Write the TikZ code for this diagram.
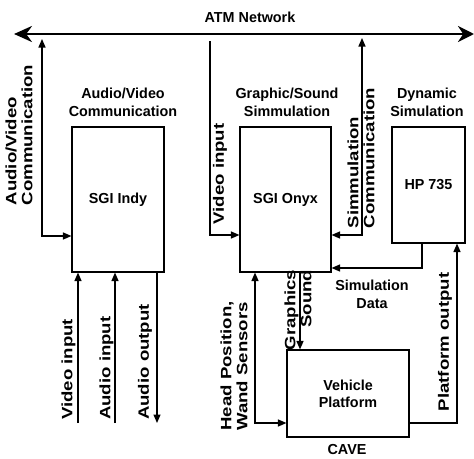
\documentclass[tikz,border=0pt]{standalone}
\usepackage{fontspec}
\setmainfont{Liberation Sans}
\newfontfamily\hfont[FakeStretch=0.99]{Liberation Sans Bold}
\newfontfamily\vfont[FakeStretch=1.24]{Liberation Sans Bold}
\usetikzlibrary{arrows.meta}
\tikzset{
  box/.style={draw, line width=1.1pt, inner sep=0pt, align=center,
    font=\hfont\fontsize{14.5}{17}\selectfont},
  lbl/.style={inner sep=0pt, align=center, font=\hfont\fontsize{14.5}{18}\selectfont},
  vlbl/.style={inner sep=0pt, rotate=90, font=\vfont\fontsize{15}{16}\selectfont},
  conn/.style={line width=1.4pt, -{Triangle[length=8.5pt,width=7pt]}},
  dconn/.style={line width=1.4pt, {Triangle[length=8.5pt,width=7pt]}-{Triangle[length=8.5pt,width=7pt]}},
}
\begin{document}
\begin{tikzpicture}[x=1pt,y=-1pt]
\useasboundingbox (0,0) rectangle (474,458);
% network
\node[lbl] (atm) at (250,17) {ATM Network};
\coordinate (atmL) at (14,34);
\coordinate (atmR) at (474,34);
\draw[line width=2.8pt, {Stealth[length=18pt,width=16pt]}-{Stealth[length=16pt,width=16pt]}] (atmL) -- (atmR);
% boxes
\node[box, minimum width=92pt, minimum height=145pt] (indy) at (118,199.5) {SGI Indy};
\node[box, minimum width=91pt, minimum height=145pt] (onyx) at (285.5,199.5) {SGI Onyx};
\node[box, minimum width=73pt, minimum height=116pt] (hp) at (428.5,185) {HP 735};
\node[box, minimum width=122pt, minimum height=87pt] (veh) at (348,393.5) {Vehicle\\Platform};
\node[lbl] (cave) at (347,450) {CAVE};
% titles
\node[lbl] (t1) at (123,102) {Audio/Video\\Communication};
\node[lbl] (t2) at (287,102) {Graphic/Sound\\Simmulation};
\node[lbl] (t3) at (427,102) {Dynamic\\Simulation};
% connectors
\coordinate (avtop) at (42,39);
\coordinate (avc) at (42,236);
\draw[dconn] (avtop) |- (indy.west |- avc);
\coordinate (vitop) at (210,41);
\coordinate (vic) at (210,235);
\draw[conn] (vitop) |- (onyx.west |- vic);
\coordinate (sctop) at (362,38);
\coordinate (scc) at (362,235);
\draw[dconn] (sctop) |- (onyx.east |- scc);
\coordinate (sdc) at (422,268);
\draw[conn] (hp.south -| sdc) |- (onyx.east |- sdc);
\coordinate (poc) at (457,423);
\draw[conn] (veh.east |- poc) -| (hp.south -| poc);
\coordinate (hpc) at (255,423);
\draw[dconn] (onyx.south -| hpc) |- (veh.west |- hpc);
\coordinate (gsc) at (300,300);
\draw[conn] (onyx.south -| gsc) -- (veh.north -| gsc);
\coordinate (vi) at (78,423);
\coordinate (ai) at (115,423);
\coordinate (ao) at (157,423);
\draw[conn] (vi) -- (indy.south -| vi);
\draw[conn] (ai) -- (indy.south -| ai);
\draw[conn] (indy.south -| ao) -- (ao);
% labels
\node[vlbl, align=left] (avlbl) at (19,135) {Audio/Video\\Communication};
\node[vlbl] (vilbl) at (220,174) {Video input};
\node[vlbl, align=left] (sclbl) at (361,158) {Simmulation\\Communication};
\node[lbl] (sdlbl) at (372,294) {Simulation\\Data};
\node[vlbl, align=right] (gslbl) at (298,310) {Graphics\\Sound};
\node[vlbl, align=left] (hplbl) at (234,366) {Head Position,\\Wand Sensors};
\node[vlbl] (polbl) at (445,342) {Platform output};
\node[vlbl, anchor=west] (vilbl2) at (68.5,420) {Video input};
\node[vlbl, anchor=west] (ailbl) at (106.5,420) {Audio input};
\node[vlbl, anchor=west] (aolbl) at (145,420) {Audio output};
\end{tikzpicture}
\end{document}
